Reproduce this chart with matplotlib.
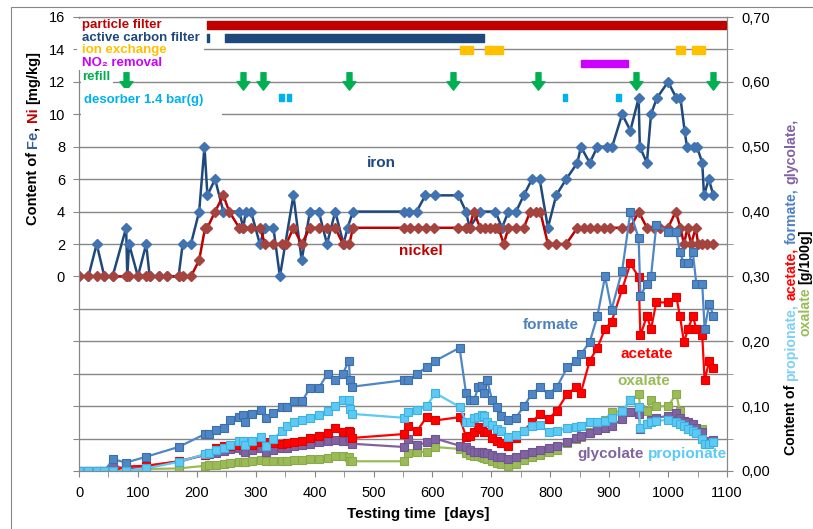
import numpy as np
import matplotlib
matplotlib.use("Agg")
import matplotlib.pyplot as plt
from matplotlib.path import Path
from matplotlib.patches import Rectangle
from matplotlib.ticker import MultipleLocator, FuncFormatter, FixedLocator

# ---------------------------------------------------------------- data
# metals (left axis, mg/kg)
fe_days = [0, 16, 30, 43, 57, 80, 82, 85, 100, 114, 120, 135, 149, 169, 176, 190, 204, 213, 218, 231,
           245, 272, 279, 283, 292, 307, 316, 330, 341, 364, 378, 392, 407, 421, 435, 449, 456, 465, 552, 560,
           573, 588, 605, 644, 657, 663, 681, 707, 718, 729, 742, 755, 769, 782, 796, 810, 827, 846, 852, 867,
           880, 896, 905, 922, 936, 950, 952, 964, 971, 981, 1000, 1014, 1021, 1028, 1032, 1044, 1049, 1058,
           1061, 1069, 1077]
fe_vals = [0, 0, 2, 0, 0, 3, 0, 2, 0, 2, 0, 0, 0, 0, 2, 2, 4, 8, 5, 6,
           4, 4, 3, 4, 4, 2, 3, 3, 0, 5, 1, 4, 4, 2, 4, 2, 3, 4, 4, 4,
           4, 5, 5, 5, 4, 3, 4, 4, 3, 4, 4, 5, 6, 6, 3, 5, 6, 7, 8, 7,
           8, 8, 8, 10, 9, 11, 8, 7, 10, 11, 12, 11, 11, 9, 8, 8, 8, 7,
           5, 6, 5]

ni_days = [0, 16, 30, 43, 57, 80, 85, 100, 114, 120, 135, 149, 169, 176, 190, 204, 214, 218, 231, 245,
           255, 272, 279, 292, 307, 316, 330, 344, 352, 364, 378, 392, 407, 421, 435, 448, 459, 465, 552, 562,
           575, 589, 603, 644, 657, 663, 670, 681, 690, 698, 707, 712, 721, 729, 742, 755, 766, 776, 783, 796,
           810, 827, 846, 857, 867, 880, 891, 902, 922, 936, 950, 964, 976, 987, 1000, 1013, 1021, 1027, 1033,
           1039, 1047, 1051, 1058, 1066, 1077]
ni_vals = [0, 0, 0, 0, 0, 0, 0, 0, 0, 0, 0, 0, 0, 0, 0, 1, 3, 3, 4, 5,
           4, 3, 3, 3, 3, 2, 2, 2, 2, 3, 2, 3, 3, 3, 3, 2, 2, 3, 3, 3,
           3, 3, 3, 3, 3, 3, 4, 3, 3, 3, 3, 3, 2, 3, 3, 3, 4, 4, 4, 2,
           2, 2, 3, 3, 3, 3, 3, 3, 3, 3, 4, 3, 3, 3, 3, 4, 3, 2, 3,
           2, 3, 2, 2, 2, 2]

# organic acids (right axis, g/100g)
acid_days = [0, 16, 30, 43, 58, 80, 114, 169, 214, 220, 233, 246, 257, 271, 278, 282, 293, 309, 318, 330,
             344, 353, 365, 379, 392, 407, 422, 435, 448, 458, 460, 464, 552, 559, 574, 590, 605, 646, 657, 664,
             671, 678, 684, 688, 693, 701, 710, 716, 729, 742, 755, 769, 782, 797, 811, 829, 844, 852, 867, 880,
             893, 904, 922, 936, 950, 953, 964, 971, 980, 1000, 1014, 1020, 1027, 1034, 1042, 1048, 1058, 1062,
             1070, 1077]
formate = [0, 0, 0, 0, 0.018, 0.013, 0.022, 0.037, 0.057, 0.057, 0.063, 0.066, 0.078, 0.083, 0.086, 0.075,
           0.088, 0.094, 0.081, 0.090, 0.098, 0.098, 0.108, 0.108, 0.128, 0.128, 0.150, 0.140, 0.150, 0.170,
           0.140, 0.130, 0.140, 0.140, 0.150, 0.160, 0.170, 0.190, 0.120, 0.110, 0.110, 0.130, 0.131, 0.120,
           0.140, 0.110, 0.098, 0.085, 0.079, 0.082, 0.100, 0.119, 0.129, 0.119, 0.129, 0.160, 0.170, 0.180,
           0.199, 0.239, 0.300, 0.249, 0.309, 0.399, 0.359, 0.270, 0.289, 0.300, 0.379, 0.369, 0.369, 0.337,
           0.320, 0.320, 0.337, 0.288, 0.288, 0.219, 0.258, 0.239]
acetate = [0, 0, 0, 0, 0, 0.007, 0.008, 0.015, 0.025, 0.028, 0.036, 0.039, 0.038, 0.040, 0.040, 0.040,
           0.040, 0.044, 0.044, 0.043, 0.042, 0.043, 0.045, 0.047, 0.051, 0.054, 0.059, 0.066, 0.060, 0.062,
           0.060, 0.051, 0.057, 0.070, 0.062, 0.083, 0.078, 0.083, 0.053, 0.054, 0.060, 0.068, 0.065, 0.060,
           0.060, 0.051, 0.046, 0.043, 0.039, 0.051, 0.062, 0.075, 0.088, 0.080, 0.093, 0.119, 0.129, 0.121,
           0.170, 0.190, 0.219, 0.230, 0.280, 0.320, 0.299, 0.209, 0.239, 0.219, 0.260, 0.260, 0.269, 0.239,
           0.199, 0.219, 0.239, 0.219, 0.209, 0.140, 0.170, 0.159]
propionate = [0, 0, 0, 0, 0, 0, 0.004, 0.014, 0.026, 0.028, 0.032, 0.036, 0.040, 0.046, 0.046, 0.040,
              0.046, 0.052, 0.038, 0.050, 0.061, 0.070, 0.076, 0.078, 0.081, 0.087, 0.092, 0.100, 0.110, 0.110,
              0.095, 0.088, 0.082, 0.091, 0.094, 0.100, 0.120, 0.099, 0.076, 0.075, 0.082, 0.084, 0.087, 0.085,
              0.075, 0.071, 0.064, 0.062, 0.052, 0.056, 0.061, 0.070, 0.071, 0.060, 0.061, 0.067, 0.068, 0.069,
              0.076, 0.076, 0.077, 0.081, 0.092, 0.109, 0.098, 0.067, 0.072, 0.075, 0.077, 0.079, 0.076, 0.072,
              0.069, 0.064, 0.062, 0.058, 0.050, 0.041, 0.041, 0.044]
glycolate = [0, 0, 0, 0, 0.009, 0.003, 0.008, 0.014, 0.025, 0.026, 0.027, 0.031, 0.034, 0.035, 0.032, 0.030,
             0.032, 0.035, 0.030, 0.032, 0.035, 0.036, 0.039, 0.040, 0.041, 0.044, 0.047, 0.048, 0.047, 0.052,
             0.047, 0.042, 0.037, 0.050, 0.040, 0.044, 0.050, 0.039, 0.037, 0.032, 0.029, 0.030, 0.030, 0.028,
             0.027, 0.024, 0.022, 0.021, 0.018, 0.022, 0.026, 0.030, 0.033, 0.036, 0.038, 0.045, 0.051, 0.054,
             0.059, 0.063, 0.067, 0.069, 0.080, 0.091, 0.088, 0.064, 0.072, 0.078, 0.082, 0.085, 0.089, 0.082,
             0.077, 0.075, 0.072, 0.067, 0.060, 0.045, 0.046, 0.048]
oxalate = [0, 0, 0, 0, 0, 0, 0.003, 0.004, 0.008, 0.009, 0.010, 0.011, 0.013, 0.014, 0.014, 0.014,
           0.015, 0.017, 0.015, 0.015, 0.015, 0.016, 0.017, 0.017, 0.018, 0.018, 0.020, 0.023, 0.023, 0.022,
           0.016, 0.015, 0.015, 0.027, 0.029, 0.030, 0.037, 0.034, 0.027, 0.024, 0.023, 0.023, 0.022, 0.020,
           0.018, 0.016, 0.013, 0.011, 0.008, 0.011, 0.017, 0.021, 0.025, 0.029, 0.033, 0.043, 0.049, 0.053,
           0.060, 0.064, 0.078, 0.091, 0.092, 0.109, 0.119, 0.095, 0.092, 0.109, 0.100, 0.100, 0.119, 0.092,
           0.072, 0.064, 0.062, 0.059, 0.064, 0.041, 0.044, 0.046]

# plant operation events (start day, duration in days)
particle_filter = [(218, 882)]
carbon_filter = [(217, 4), (247, 440)]
ion_exchange = [(647, 21), (689, 31), (1013, 15), (1041, 21)]
no2_removal = [(853, 79)]
refill_days = [80, 279, 313, 458, 635, 779, 946, 1076]
desorber_days = [340, 353, 821, 912]

x_ticks = list(range(0, 1101, 100))
left_ticks = list(range(-12, 17, 2))
right_ticks = [0.0, 0.1, 0.2, 0.3, 0.4, 0.5, 0.6, 0.7]

# ---------------------------------------------------------------- style
W, H = 813, 529
plt.rcParams["font.family"] = ["Liberation Sans", "DejaVu Sans"]
GRID = "#878787"

C_FE_LINE, C_FE_MARK = "#1F497D", "#4273B1"
C_NI_LINE, C_NI_MARK = "#C00000", "#A5433F"
C_FORM, C_FORM_E = "#4F86C6", "#3C6FA8"
C_PROP, C_PROP_E = "#5CCAF4", "#3DB2E0"
C_ACET, C_ACET_E = "#FF0000", "#E00000"
C_GLYC, C_GLYC_E = "#8064A2", "#6F5592"
C_OXAL, C_OXAL_E = "#9BBB59", "#8AAA4A"

fig = plt.figure(figsize=(W / 100, H / 100), dpi=100)
ax = fig.add_axes([79 / W, 1 - 471 / H, (727 - 79) / W, (471 - 17) / H])
ax2 = ax.twinx()


def fx(px):
    return px / W


def fy(py):
    return 1 - py / H


# ---------------------------------------------------------------- left axis: metals
ax.set_xlim(0, 1100)
ax.set_ylim(-12, 16)
ax.set_yticks(left_ticks)
ax.set_yticklabels([str(v) if v >= 0 else "" for v in left_ticks])
ax.set_xticks(x_ticks)
ax.set_xticklabels([str(v) for v in x_ticks])
ax.xaxis.set_minor_locator(MultipleLocator(50))
ax.grid(axis="y", color=GRID, lw=1.0)
ax.set_axisbelow(True)
for s in ax.spines.values():
    s.set_color(GRID)
ax.tick_params(axis="both", which="both", direction="out", color=GRID, length=4,
               labelsize=10.5, labelcolor="black")
ax.tick_params(axis="y", pad=6)
ax.tick_params(axis="x", pad=7)

ax.plot(fe_days, fe_vals, color=C_FE_LINE, lw=1.8, marker="D", ms=5.4,
        mfc=C_FE_MARK, mec=C_FE_MARK, zorder=3)
ax.plot(ni_days, ni_vals, color=C_NI_LINE, lw=1.8, marker="D", ms=5.4,
        mfc=C_NI_MARK, mec=C_NI_MARK, zorder=3)

# event bars
ax.broken_barh(particle_filter, (15.28, 0.49), color="#C00000", zorder=4)
ax.broken_barh(carbon_filter, (14.44, 0.49), color="#1F497D", zorder=4)
ax.broken_barh(ion_exchange, (13.7, 0.5), color="#FFC000", zorder=4)
ax.broken_barh(no2_removal, (12.9, 0.45), color="#CC00FF", zorder=4)
ax.broken_barh([(d, 7.5) for d in desorber_days], (10.79, 0.45), color="#00B0F0", zorder=4)

arrow = Path([(-2.5, 8.75), (-2.5, -0.25), (-6.5, -0.25), (0, -8.75), (6.5, -0.25),
              (2.5, -0.25), (2.5, 8.75), (-2.5, 8.75)],
             [Path.MOVETO] + [Path.LINETO] * 6 + [Path.CLOSEPOLY])
ax.plot(refill_days, [12.08] * len(refill_days), ls="none", marker=arrow, ms=12.6,
        color="#00B050", mec="#00B050", zorder=4)

ax.text(513, 7.0, "iron", color="#1F497D", fontsize=11, weight="bold", ha="center", va="center")
ax.text(580, 1.55, "nickel", color="#C00000", fontsize=11, weight="bold", ha="center", va="center")

# ---------------------------------------------------------------- right axis: acids
ax2.set_ylim(0, 0.70)
ax2.yaxis.set_major_locator(FixedLocator(right_ticks))
ax2.yaxis.set_minor_locator(MultipleLocator(0.05))
ax2.yaxis.set_major_formatter(FuncFormatter(lambda v, p: f"{v:.2f}".replace(".", ",")))
for s in ax2.spines.values():
    s.set_color(GRID)
ax2.tick_params(axis="y", which="both", direction="out", color=GRID, length=4,
                labelsize=10.5, pad=6)

series = [
    (oxalate, C_OXAL, C_OXAL_E),
    (glycolate, C_GLYC, C_GLYC_E),
    (acetate, C_ACET, C_ACET_E),
    (formate, C_FORM, C_FORM_E),
    (propionate, C_PROP, C_PROP_E),
]
for vals, c, ce in series:
    ax2.plot(acid_days, vals, color=c, lw=1.6, marker="s", ms=6.4, mfc=c, mec=ce, mew=0.8)

lab = dict(fontsize=11, weight="bold", ha="center", va="center", zorder=10)
ax2.text(800, 0.225, "formate", color="#4F81BD", **lab)
ax2.text(964, 0.181, "acetate", color="#FF0000", **lab)
ax2.text(958, 0.138, "oxalate", color="#9BBB59", **lab)
ax2.text(902, 0.026, "glycolate", color="#8064A2", **lab)
ax2.text(1033, 0.026, "propionate", color="#5CCAF4", **lab)

# ---------------------------------------------------------------- legend block, top left
for (x0, y0, x1, y1) in [(77, 19.5, 204, 70), (81, 70, 113, 88), (81, 88, 222, 118)]:
    fig.add_artist(Rectangle((fx(x0), fy(y1)), (x1 - x0) / W, (y1 - y0) / H,
                             transform=fig.transFigure, fc="white", ec="none", zorder=1))
legend_rows = [
    ("particle filter", "#C00000", 25),
    ("active carbon filter", "#1F497D", 38),
    ("ion exchange", "#FFC000", 50.5),
    ("NO\u2082 removal", "#CC00FF", 63),
    ("refill", "#00B050", 77),
    ("desorber 1.4 bar(g)", "#00B0F0", 100),
]
for txt, c, yc in legend_rows:
    x = 84 if txt.startswith("desorber") else 82
    fig.text(fx(x), fy(yc), txt, color=c, fontsize=9.5, weight="bold", ha="left", va="center", zorder=3)

# outer chart frame
fig.add_artist(Rectangle((fx(11), fy(545)), (830 - 11) / W, (545 - 7) / H,
                         transform=fig.transFigure, fc="none", ec=GRID, lw=0.8, zorder=0))

# ---------------------------------------------------------------- axis titles
fig.text(fx(418), fy(514), "Testing time  [days]", fontsize=11, weight="bold", ha="center", va="center")

renderer = fig.canvas.get_renderer()


def run_length(s, size):
    t = fig.text(0, 0, s, fontsize=size, weight="bold", rotation=90)
    L = t.get_window_extent(renderer).height
    t.remove()
    return L


def vertical_label(x_px, yc_px, pieces, size):
    gap = run_length("x x", size) - run_length("xx", size)
    items, total = [], 0.0
    for i, (s, c, spaced) in enumerate(pieces):
        L = run_length(s, size)
        g = gap if (spaced and i > 0) else 0.0
        items.append((s, c, L, g))
        total += L + g
    y = (H - yc_px) - total / 2
    for s, c, L, g in items:
        y += g
        fig.text(x_px / W, y / H, s, color=c, fontsize=size, weight="bold", rotation=90,
                 ha="center", va="bottom")
        y += L


vertical_label(33, 138, [("Content of", "black", True), ("Fe", "#376092", True), (",", "black", False),
                         ("Ni", "#C00000", True), ("[mg/kg]", "black", True)], 10.5)
vertical_label(791, 287, [("Content of", "black", True), ("propionate,", "#7FD0F5", True),
                          ("acetate,", "#FF0000", True), ("formate,", "#4F81BD", True),
                          ("glycolate,", "#8064A2", True)], 10.2)
vertical_label(805, 283, [("oxalate", "#9BBB59", True), ("[g/100g]", "black", True)], 10.2)

fig.savefig("out.png", dpi=100)
